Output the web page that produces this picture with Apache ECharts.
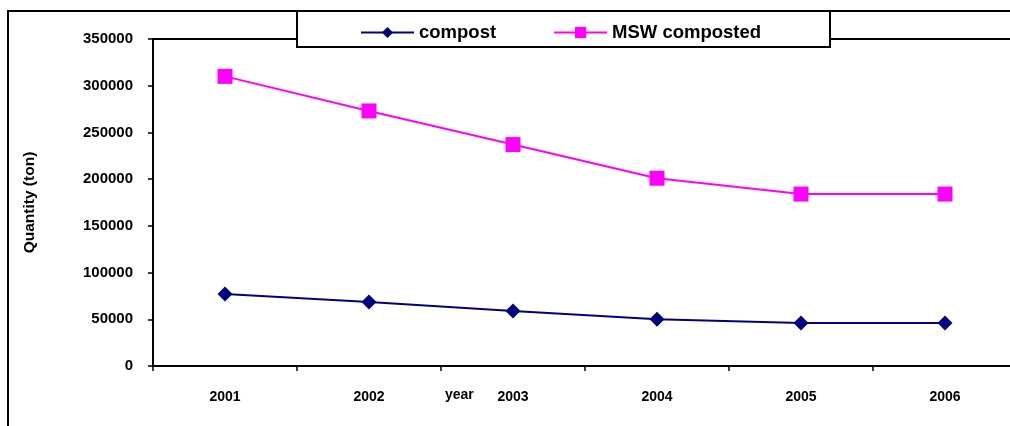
<!DOCTYPE html>
<html>
<head>
<meta charset="utf-8">
<script src="https://cdn.jsdelivr.net/npm/echarts@6/dist/echarts.min.js"></script>
<style>
    html, body { margin: 0; padding: 0; background: #fff; }
    #chart { width: 1010px; height: 426px; }
</style>
</head>
<body>
<div id="chart"></div>
<script>
// data
const years = ['2001', '2002', '2003', '2004', '2005', '2006'];
const compost = [77000, 68500, 59000, 50000, 46000, 46000];
const mswComposted = [310000, 273000, 237000, 201000, 184000, 184000];

const font = 'Liberation Sans, Arial, sans-serif';

const chart = echarts.init(document.getElementById('chart'));

const option = {
    backgroundColor: '#fff',
    animation: false,
    grid: {
        left: 153,
        top: 39,
        right: -7,
        bottom: 60,
        outerBoundsMode: 'none',
        containLabel: false,
        show: true,
        borderColor: '#000',
        borderWidth: 2
    },
    legend: {
        left: 355,
        top: 18,
        z: 20,
        itemWidth: 53,
        itemHeight: 14,
        itemGap: 57,
        textStyle: { fontFamily: font, fontWeight: 'bold', fontSize: 18.5, color: '#000' },
        data: ['compost', 'MSW composted']
    },
    // outer frame and legend box
    graphic: [
        {
            type: 'rect',
            z: 1,
            shape: { x: 8, y: 11, width: 1200, height: 600 },
            style: { fill: 'none', stroke: '#000', lineWidth: 2 }
        },
        {
            type: 'rect',
            z: 10,
            shape: { x: 297, y: 11, width: 533, height: 36 },
            style: { fill: '#fff', stroke: '#000', lineWidth: 2 }
        },
        {
            type: 'text',
            z: 10,
            left: 445,
            top: 388,
            style: { text: 'year', fontFamily: font, fontWeight: 'bold', fontSize: 14, fill: '#000' }
        }
    ],
    xAxis: {
        type: 'category',
        data: years,
        boundaryGap: true,
        axisLine: { lineStyle: { color: '#000', width: 2 } },
        axisTick: { show: true, length: 5, lineStyle: { color: '#000', width: 1.5 } },
        axisLabel: { margin: 24, fontFamily: font, fontWeight: 'bold', fontSize: 14, color: '#000' },
        splitLine: { show: false }
    },
    yAxis: {
        type: 'value',
        min: 0,
        max: 350000,
        interval: 50000,
        name: 'Quantity (ton)',
        nameLocation: 'middle',
        nameGap: 115,
        nameTextStyle: { fontFamily: font, fontWeight: 'bold', fontSize: 15.5, color: '#000' },
        axisLine: { show: true, lineStyle: { color: '#000', width: 2 } },
        axisTick: { show: true, length: 5, lineStyle: { color: '#000', width: 1.5 } },
        axisLabel: {
            margin: 20,
            fontFamily: font,
            fontWeight: 'bold',
            fontSize: 15,
            color: '#000',
            formatter: (v) => String(v)
        },
        splitLine: { show: false }
    },
    series: [
        {
            name: 'compost',
            type: 'line',
            data: compost,
            color: '#000080',
            symbol: 'diamond',
            symbolSize: 15,
            lineStyle: { width: 2, color: '#000080' },
            itemStyle: { color: '#000080' }
        },
        {
            name: 'MSW composted',
            type: 'line',
            data: mswComposted,
            color: '#ff00ff',
            symbol: 'rect',
            symbolSize: 15,
            lineStyle: { width: 2, color: '#ff00ff' },
            itemStyle: { color: '#ff00ff' }
        }
    ]
};

chart.setOption(option);
</script>
</body>
</html>
